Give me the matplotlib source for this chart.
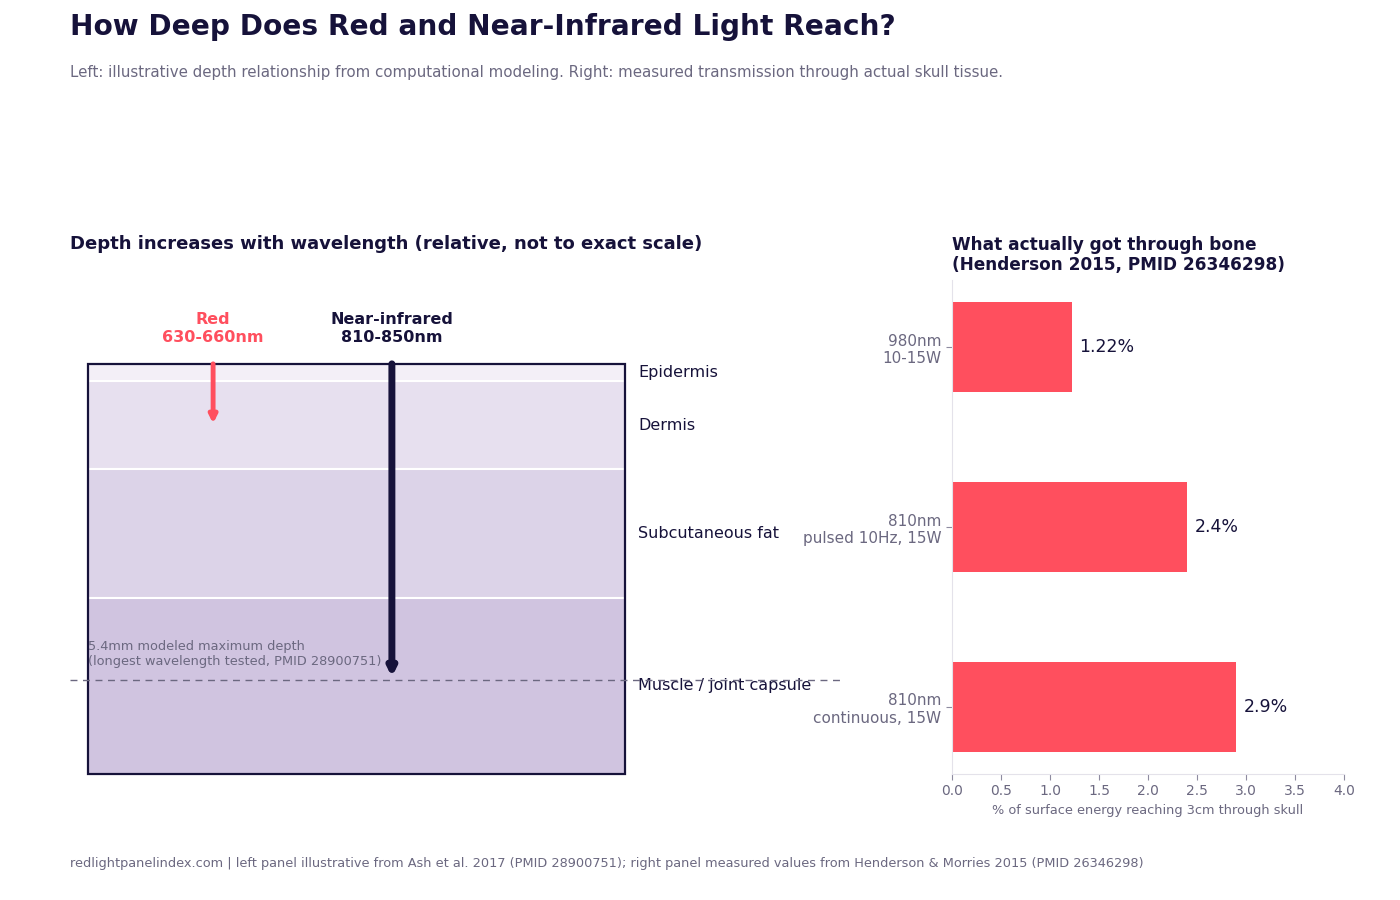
import matplotlib.pyplot as plt

plt.rcParams["font.family"] = ["DejaVu Sans"]

# palette
navy = "#16123a"
gray = "#6b6880"
red = "#ff4f5e"

# left panel: illustrative tissue layers (relative depth units)
layer_names = ["Epidermis", "Dermis", "Subcutaneous fat", "Muscle / joint capsule"]
layer_tops = [0.0, 0.3, 1.8, 4.0]
layer_bottoms = [0.3, 1.8, 4.0, 7.0]
layer_colors = ["#f3eff7", "#e7e0ef", "#dcd3e8", "#d0c4e0"]

wave_labels = ["Red\n630-660nm", "Near-infrared\n810-850nm"]
wave_x = [1.63, 3.96]
wave_depth = [1.02, 5.35]
wave_colors = [red, navy]
wave_lw = [3.5, 5]

max_depth = 5.4
max_depth_note = "5.4mm modeled maximum depth\n(longest wavelength tested, PMID 28900751)"

# right panel: measured transmission through skull
conditions = ["980nm\n10-15W", "810nm\npulsed 10Hz, 15W", "810nm\ncontinuous, 15W"]
transmission = [1.22, 2.4, 2.9]
value_labels = ["1.22%", "2.4%", "2.9%"]

fig = plt.figure(figsize=(14, 9), dpi=100)

fig.text(0.05, 1 - 27 / 900, "How Deep Does Red and Near-Infrared Light Reach?",
         fontsize=20.2, fontweight="bold", color=navy, va="center")
fig.text(0.05, 1 - 72 / 900,
         "Left: illustrative depth relationship from computational modeling. "
         "Right: measured transmission through actual skull tissue.",
         fontsize=10.85, color=gray, va="center")
fig.text(0.05, 1 - 864 / 900,
         "redlightpanelindex.com | left panel illustrative from Ash et al. 2017 (PMID 28900751); "
         "right panel measured values from Henderson & Morries 2015 (PMID 26346298)",
         fontsize=9.3, color=gray, va="center")

# ---- left panel
ax = fig.add_axes([0.05, 1 - 790 / 900, 0.55, (790 - 262) / 900])
ax.set_xlim(-0.235, 9.8)
ax.set_ylim(7.28, -1.74)
ax.axis("off")

fig.text(0.05, 1 - 244 / 900,
         "Depth increases with wavelength (relative, not to exact scale)",
         fontsize=13, fontweight="bold", color=navy, va="center")

rect_w = 7.0
for name, top, bot, col in zip(layer_names, layer_tops, layer_bottoms, layer_colors):
    ax.add_patch(plt.Rectangle((0, top), rect_w, bot - top, facecolor=col,
                               edgecolor="white", lw=1.5, zorder=1))
    ax.text(rect_w + 0.17, (top + bot) / 2, name, fontsize=11.5, color=navy,
            va="center", ha="left", zorder=3)
ax.add_patch(plt.Rectangle((0, layer_tops[0]), rect_w, layer_bottoms[-1] - layer_tops[0],
                           facecolor="none", edgecolor=navy, lw=1.6, zorder=3))

for lab, x, d, col, lw in zip(wave_labels, wave_x, wave_depth, wave_colors, wave_lw):
    ax.annotate("", xy=(x, d), xytext=(x, 0),
                arrowprops=dict(arrowstyle="-|>", color=col, lw=lw,
                                mutation_scale=11, shrinkA=0, shrinkB=0),
                zorder=5)
    ax.text(x, -0.32, lab, ha="center", va="bottom", fontsize=11.5,
            fontweight="bold", color=col, linespacing=1.25)

ax.axhline(max_depth, color=gray, lw=1, ls=(0, (5, 4)), zorder=4)
ax.text(0, max_depth - 0.2, max_depth_note, fontsize=9.25, color=gray,
        ha="left", va="bottom", zorder=4)

# ---- right panel
ax2 = fig.add_axes([952 / 1400, 1 - 774 / 900, (1344 - 952) / 1400, (774 - 280) / 900])
ypos = range(len(conditions))
ax2.barh(ypos, transmission, height=0.5, color=red)
ax2.invert_yaxis()
ax2.set_xlim(0, 4)
ax2.set_xticks([0, 0.5, 1, 1.5, 2, 2.5, 3, 3.5, 4])
ax2.set_yticks(list(ypos))
ax2.set_yticklabels(conditions)
for y, v, lab in zip(ypos, transmission, value_labels):
    ax2.text(v + 0.08, y, lab, va="center", ha="left", fontsize=12.5, color=navy)

ax2.set_xlabel("% of surface energy reaching 3cm through skull", fontsize=9.25, color=gray)
for s in ["top", "right"]:
    ax2.spines[s].set_visible(False)
for s in ["left", "bottom"]:
    ax2.spines[s].set_color("#e4e2ea")
ax2.tick_params(axis="x", colors=gray, labelsize=10, length=4)
ax2.tick_params(axis="y", colors=gray, labelsize=11, length=4)
ax2.tick_params(axis="both", color="#8e8ba0")

fig.text(952 / 1400, 1 - 255 / 900,
         "What actually got through bone\n(Henderson 2015, PMID 26346298)",
         fontsize=12.2, fontweight="bold", color=navy, va="center", linespacing=1.2)

fig.savefig("out.png", dpi=100)
